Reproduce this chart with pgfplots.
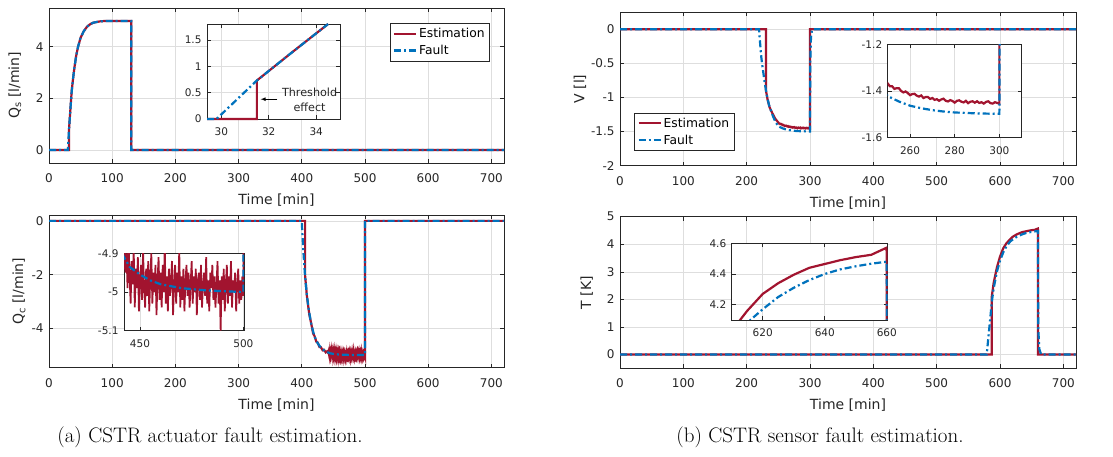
\documentclass[border=0pt]{standalone}
\usepackage{fontspec}
\usepackage{pgfplots}
\pgfplotsset{compat=1.18}
\usepackage{pgfplotstable}
\newfontfamily\dv{DejaVu Sans}
\definecolor{mred}{HTML}{A2142F}
\definecolor{mblue}{HTML}{0072BD}
\definecolor{fr}{HTML}{262626}
\newcommand\tfs{\dv\fontsize{12}{14}\selectfont}
\newcommand\ifs{\dv\fontsize{10.5}{12}\selectfont}
\newcommand\lfs{\dv\fontsize{14}{16}\selectfont}

\pgfplotstableread{
x y
0 0
29.8 0
31.5 0.73
33 1.27
34.5 1.8
36 2.3
38 2.75
40 3.15
43 3.65
46 4.0
50 4.35
55 4.6
60 4.77
65 4.87
70 4.93
80 4.98
90 5
130 5
130 0
720 0
}\TLblue
\pgfplotstableread{
x y
0 0
31.5 0
31.5 0.73
33 1.27
34.5 1.8
36 2.3
38 2.75
40 3.15
43 3.65
46 4.0
50 4.35
55 4.6
60 4.77
65 4.87
70 4.93
80 4.98
90 5
130 5
130 0
720 0
}\TLred
\pgfplotstableread{
x y
0 0
400 0
401 -0.5
403 -1.3
405 -2.0
408 -2.75
411 -3.3
415 -3.85
420 -4.3
425 -4.55
430 -4.72
435 -4.82
442.3 -4.91
445 -4.935
450 -4.955
455 -4.97
460 -4.98
470 -4.99
480 -4.995
490 -4.998
500 -5.0
500 0
720 0
}\BLblue
\pgfplotstableread{
x y
0 0
405.3 0
405.3 -2.05
408 -2.78
410 -3.15
412 -3.5
415 -3.83
418 -4.2
420 -4.28
423 -4.5
425 -4.53
428 -4.7
430 -4.7
433 -4.82
435 -4.8
438 -4.9
440 -4.86
442 -4.93
442.5 -4.88
443 -4.95
443.5 -4.90
444 -4.99
444.5 -4.87
445 -4.96
445.5 -5.03
446 -4.92
446.5 -4.98
447 -4.89
447.5 -5.04
448 -4.94
448.5 -4.99
449 -4.91
449.5 -5.05
450 -4.97
450.5 -4.93
451 -5.02
451.5 -4.89
452 -4.99
452.5 -5.04
453 -4.94
453.5 -5.01
454 -4.92
454.5 -5.05
455 -4.96
455.5 -4.90
456 -5.03
456.5 -4.95
457 -5.00
457.5 -4.93
458 -5.06
458.5 -4.97
459 -4.91
459.5 -5.02
460 -4.95
460.5 -5.04
461 -4.93
461.5 -5.00
462 -4.88
462.5 -5.03
463 -4.96
463.5 -5.05
464 -4.94
464.5 -5.01
465 -4.97
465.5 -4.92
466 -5.06
466.5 -4.98
467 -4.93
467.5 -5.03
468 -4.95
468.5 -5.00
469 -4.89
469.5 -5.04
470 -4.96
470.5 -5.02
471 -4.94
471.5 -5.05
472 -4.97
472.5 -4.93
473 -5.01
473.5 -4.95
474 -5.04
474.5 -4.98
475 -4.92
475.5 -5.03
476 -4.96
476.5 -5.00
477 -4.94
477.5 -5.06
478 -4.97
478.5 -4.95
479 -5.02
479.5 -4.93
480 -5.04
480.5 -4.98
481 -4.95
481.5 -5.01
482 -4.91
482.5 -5.03
483 -4.97
483.5 -5.05
484 -4.95
484.5 -4.99
485 -4.93
485.5 -5.02
486 -4.96
486.5 -5.04
487 -4.98
487.5 -4.92
488 -5.03
488.5 -4.97
489 -5.10
489.5 -4.96
490 -5.02
490.5 -4.94
491 -5.05
491.5 -4.98
492 -4.93
492.5 -5.03
493 -4.96
493.5 -5.01
494 -4.92
494.5 -5.04
495 -4.97
495.5 -5.00
496 -4.95
496.5 -5.05
497 -4.98
497.5 -4.94
498 -5.03
498.5 -4.97
499 -5.02
499.5 -4.96
500 -5.01
500 0
720 0
}\BLred
\pgfplotstableread{
x y
0 0
219.5 0
221 -0.18
223 -0.4
225 -0.55
228 -0.75
231 -0.93
235 -1.1
240 -1.24
245 -1.35
250 -1.422
255 -1.445
260 -1.463
265 -1.474
270 -1.482
275 -1.488
280 -1.492
290 -1.496
300 -1.498
300.4 -0.5
301.5 -0.12
303 -0.02
304 0
720 0
}\TRblue
\pgfplotstableread{
x y
0 0
230.5 0
230.5 -0.9
233 -1.03
236 -1.14
240 -1.22
245 -1.31
250 -1.368
251 -1.380
252 -1.380
253 -1.391
254 -1.388
255 -1.388
256 -1.400
257 -1.406
258 -1.402
259 -1.409
260 -1.418
261 -1.413
262 -1.412
263 -1.420
264 -1.424
265 -1.419
266 -1.430
267 -1.426
268 -1.426
269 -1.434
270 -1.430
271 -1.438
272 -1.435
273 -1.442
274 -1.436
275 -1.433
276 -1.442
277 -1.445
278 -1.439
279 -1.443
280 -1.450
281 -1.442
282 -1.440
283 -1.446
284 -1.449
285 -1.442
286 -1.452
287 -1.446
288 -1.444
289 -1.450
290 -1.444
291 -1.451
292 -1.448
293 -1.454
294 -1.447
295 -1.444
296 -1.452
297 -1.454
298 -1.448
299 -1.451
300 -1.455
300 0
720 0
}\TRred
\pgfplotstableread{
x y
0 0
579 0
582 0.7
585 1.4
587 1.9
590 2.4
595 3.0
600 3.4
605 3.7
610 3.92
616 4.1
620 4.17
625 4.25
630 4.31
635 4.36
640 4.40
645 4.43
650 4.45
655 4.467
660 4.48
660.3 1.0
662 0.2
665 0
720 0
}\BRblue
\pgfplotstableread{
x y
0 0
587 0
587 2.1
590 2.6
595 3.15
600 3.55
605 3.85
610 4.03
612.7 4.1
615 4.16
620 4.27
625 4.34
630 4.395
635 4.44
640 4.465
645 4.49
650 4.51
655 4.525
659.8 4.57
660 4.54
660 0
720 0
}\BRred

\pgfplotsset{
  base/.style={scale only axis, anchor=south west, enlargelimits=false,
    /pgf/number format/assume math mode=true,
    tick align=inside, major tick length=4pt,
    tick style={fr, line width=0.6pt},
    axis line style={fr, line width=0.8pt},
    grid=major, major grid style={black!13, line width=0.6pt},
    xtick pos=both, ytick pos=both,
    axis background/.style={fill=white},
  },
  mainax/.style={base, xmin=0, xmax=720, xtick={0,100,...,700},
    ticklabel style={font=\tfs, text=fr},
    xticklabel shift=7pt, yticklabel shift=2pt,
    xlabel={Time [min]},
    xlabel style={font=\lfs, text=fr, at={(axis description cs:0.5,0)}, anchor=center, yshift=-37pt},
    ylabel style={font=\lfs, text=fr, rotate=0, anchor=center},
    legend style={draw=fr, line width=0.6pt, fill=white, font=\dv\fontsize{12.3}{14}\selectfont,
      inner xsep=3pt, inner ysep=3pt, row sep=2pt, nodes={inner sep=2pt}, cells={anchor=west}},
    legend image code/.code={\draw[##1] (0pt,0pt) -- (22pt,0pt);},
  },
  insetax/.style={base, ticklabel style={font=\ifs, text=fr},
    xticklabel shift=5pt, yticklabel shift=2pt},
  est/.style={mred, line width=2.2pt},
  flt/.style={mblue, line width=2.2pt, dash pattern=on 7pt off 3pt on 2pt off 3pt},
}

\begin{document}
\begin{tikzpicture}
\path[use as bounding box] (0,0) rectangle (1113pt,457pt);

% ---------- top left ----------
\begin{axis}[mainax, at={(49pt,294pt)}, width=455pt, height=155pt,
  ymin=-0.5, ymax=5.5, ytick={0,2,4},
  ylabel={Q\textsubscript{s} [l/min]},
  ylabel style={at={(axis description cs:-0.075,0.5)}},
  legend style={at={(axis description cs:0.969,0.903)}, anchor=north east}]
\addplot[est] table {\TLred};
\addplot[flt] table {\TLblue};
\legend{Estimation, Fault}
\end{axis}
\begin{axis}[insetax, at={(207pt,338pt)}, width=133pt, height=95pt,
  xmin=29.4, xmax=35, ymin=0, ymax=1.8, xtick={30,32,34}, ytick={0,0.5,1,1.5}, clip=false]
\addplot[est] coordinates {(29.4,0) (31.5,0) (31.5,0.73) (33,1.27) (34.5,1.8)};
\addplot[flt] coordinates {(29.4,0) (29.8,0) (31.5,0.73) (33,1.27) (34.5,1.8)};
\draw[-latex, line width=0.7pt] (axis cs:32.36,0.375) -- (axis cs:31.66,0.375);
\node[font=\dv\fontsize{11.2}{15}\selectfont, text=fr, align=center] at (axis cs:33.72,0.36) {Threshold\\effect};
\end{axis}

% ---------- bottom left ----------
\begin{axis}[mainax, at={(49pt,89.3pt)}, width=455pt, height=152.7pt,
  ymin=-5.47, ymax=0.22, ytick={-4,-2,0},
  ylabel={Q\textsubscript{c} [l/min]},
  ylabel style={at={(axis description cs:-0.066,0.5)}}]
\addplot[est] table {\BLred};
\addplot[flt] table {\BLblue};
\end{axis}
\begin{axis}[insetax, at={(124pt,126.3pt)}, width=120pt, height=77.4pt,
  xmin=442.3, xmax=500.3, ymin=-5.1, ymax=-4.9, xtick={450,500}, ytick={-5.1,-5,-4.9}]
\addplot[mred, line width=1.7pt] table {\BLred};
\addplot[flt] table {\BLblue};
\end{axis}

% ---------- top right ----------
\begin{axis}[mainax, at={(620pt,291.3pt)}, width=456pt, height=153.4pt,
  ymin=-2, ymax=0.25, ytick={-2,-1.5,...,0},
  ylabel={V [l]},
  ylabel style={at={(axis description cs:-0.088,0.5)}},
  legend style={at={(axis description cs:0.031,0.097)}, anchor=south west}]
\addplot[est] table {\TRred};
\addplot[flt] table {\TRblue};
\legend{Estimation, Fault}
\end{axis}
\begin{axis}[insetax, at={(887.7pt,319.3pt)}, width=134pt, height=93.4pt,
  xmin=250, xmax=310, ymin=-1.6, ymax=-1.2, xtick={260,280,300}, ytick={-1.6,-1.4,-1.2}]
\addplot[est] table {\TRred};
\addplot[flt] table {\TRblue};
\end{axis}

% ---------- bottom right ----------
\begin{axis}[mainax, at={(620pt,88.7pt)}, width=456pt, height=151.6pt,
  ymin=-0.5, ymax=5, ytick={0,1,...,5},
  ylabel={T [K]},
  ylabel style={at={(axis description cs:-0.073,0.5)}}]
\addplot[est] table {\BRred};
\addplot[flt] table {\BRblue};
\end{axis}
\begin{axis}[insetax, at={(731.7pt,137pt)}, width=156pt, height=76.7pt,
  xmin=610, xmax=660.3, ymin=4.1, ymax=4.6, xtick={620,640,660}, ytick={4.2,4.4,4.6}]
\addplot[est] table {\BRred};
\addplot[flt] table {\BRblue};
\end{axis}

\node[font=\fontsize{21}{24}\selectfont] at (210pt,20pt) {(a) CSTR actuator fault estimation.};
\node[font=\fontsize{21}{24}\selectfont] at (820pt,20pt) {(b) CSTR sensor fault estimation.};
\end{tikzpicture}
\end{document}
